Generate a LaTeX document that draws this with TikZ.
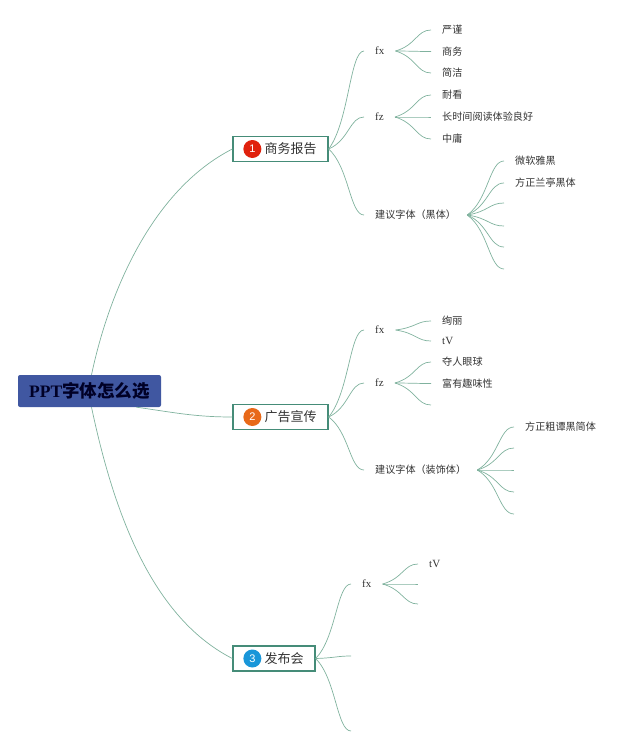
\documentclass[tikz,border=0pt]{standalone}
\usepackage{fontspec}
\setmainfont{Liberation Serif}
\setsansfont{Liberation Sans}
\newfontfamily\cjk{Noto Sans CJK SC}
\usepackage{xcolor}
\usetikzlibrary{calc}
\definecolor{lk}{rgb}{0.50,0.70,0.62}
\definecolor{bd}{rgb}{0.27,0.55,0.47}
\definecolor{rt}{rgb}{0.25,0.34,0.63}
\definecolor{tx}{rgb}{0.20,0.20,0.20}
\definecolor{nred}{rgb}{0.88,0.13,0.05}
\definecolor{norg}{rgb}{0.91,0.41,0.10}
\definecolor{nblu}{rgb}{0.10,0.59,0.85}
\newcommand{\curl}[2]{\draw[lnk] (#1) .. controls ($(#1)!0.4!(#2)!0.3!(#1 -| #2)$) and ($(#1 |- #2)!0.6!(#2)$) .. (#2);}

\begin{document}
\begin{tikzpicture}[x=1pt,y=-1pt,
  rootbox/.style={rectangle,fill=rt,rounded corners=2pt,minimum width=143pt,minimum height=32pt,
    inner sep=0pt,text=black!85!blue,font=\fontsize{17.5}{20}\selectfont\bfseries},
  topic/.style={rectangle,draw=bd,line width=1.3pt,fill=white,minimum height=25pt,inner sep=0pt,
    text=tx,font=\fontsize{13}{15}\selectfont\cjk},
  badge/.style={circle,minimum size=18pt,inner sep=0pt,text=white,font=\fontsize{11}{13}\selectfont\sffamily},
  sub/.style={inner xsep=11pt,inner ysep=1pt,text=tx,font=\fontsize{10.1}{13}\selectfont\cjk,anchor=west},
  lat/.style={sub,font=\fontsize{11}{13}\selectfont},
  lnk/.style={draw=lk,line width=0.7pt}]
  \useasboundingbox (0,0) rectangle (640,749);

  \node[topic,minimum width=95pt] (rep) at (280.5,149) {\hspace{20pt}商务报告};
  \node[topic,minimum width=95pt] (ad) at (280.5,417) {\hspace{20pt}广告宣传};
  \node[topic,minimum width=82pt] (launch) at (274,658.5) {\hspace{20pt}发布会};
  \node[badge,fill=nred] (nrep) at ([xshift=20pt]rep.west) {1};
  \node[badge,fill=norg] (nad) at ([xshift=20pt]ad.west) {2};
  \node[badge,fill=nblu] (nlaunch) at ([xshift=20pt]launch.west) {3};
  \node[rootbox] (root) at (89.5,391) {PPT{\cjk 字体怎么选}};

  \node[lat] (fxa) at (364,51) {fx};
  \node[lat] (fza) at (364,117) {fz};
  \node[sub] (suga) at (364,215) {建议字体（黑体）};
  \node[sub] (a1) at (431,30) {严谨};
  \node[sub] (a2) at (431,51.5) {商务};
  \node[sub] (a3) at (431,73) {简洁};
  \node[sub] (a4) at (431,95) {耐看};
  \node[sub] (a5) at (431,117) {长时间阅读体验良好};
  \node[sub] (a6) at (431,139) {中庸};
  \node[sub] (a7) at (504,161) {微软雅黑};
  \node[sub] (a8) at (504,183) {方正兰亭黑体};
  \coordinate (a9) at (504,203);
  \coordinate (a10) at (504,226);
  \coordinate (a11) at (504,247);
  \coordinate (a12) at (504,269);

  \node[lat] (fxb) at (364,330) {fx};
  \node[lat] (fzb) at (364,383) {fz};
  \node[sub] (sugb) at (364,470) {建议字体（装饰体）};
  \node[sub] (b1) at (431,321) {绚丽};
  \node[lat] (b2) at (431,341) {tV};
  \node[sub] (b3) at (431,362) {夺人眼球};
  \node[sub] (b4) at (431,383.5) {富有趣味性};
  \coordinate (b5) at (431,405);
  \node[sub] (b6) at (514,427) {方正粗谭黑简体};
  \coordinate (b7) at (514,448);
  \coordinate (b8) at (514,470);
  \coordinate (b9) at (514,492);
  \coordinate (b10) at (514,514);

  \node[lat] (fxc) at (351,584) {fx};
  \coordinate (c1) at (351,656);
  \coordinate (c2) at (351,731);
  \node[lat] (c3) at (418,564) {tV};
  \coordinate (c4) at (418,584);
  \coordinate (c5) at (418,604);

  \draw[lnk] ([xshift=2pt]root.north) to[out=78,in=207,looseness=0.85] (rep.west);
  \draw[lnk] ([xshift=47pt]root.south) to[out=-8,in=180] (ad.west);
  \draw[lnk] ([xshift=2pt]root.south) to[out=-78,in=153,looseness=0.85] (launch.west);

  \foreach \t in {fxa.west,fza.west,suga.west} {\curl{rep.east}{\t}}
  \foreach \t in {fxb.west,fzb.west,sugb.west} {\curl{ad.east}{\t}}
  \foreach \t in {fxc.west,c1,c2} {\curl{launch.east}{\t}}
  \foreach \t in {a1.west,a2.west,a3.west} {\curl{fxa.east}{\t}}
  \foreach \t in {a4.west,a5.west,a6.west} {\curl{fza.east}{\t}}
  \foreach \t in {a7.west,a8.west,a9,a10,a11,a12} {\curl{suga.east}{\t}}
  \foreach \t in {b1.west,b2.west} {\curl{fxb.east}{\t}}
  \foreach \t in {b3.west,b4.west,b5} {\curl{fzb.east}{\t}}
  \foreach \t in {b6.west,b7,b8,b9,b10} {\curl{sugb.east}{\t}}
  \foreach \t in {c3.west,c4,c5} {\curl{fxc.east}{\t}}
\end{tikzpicture}
\end{document}
